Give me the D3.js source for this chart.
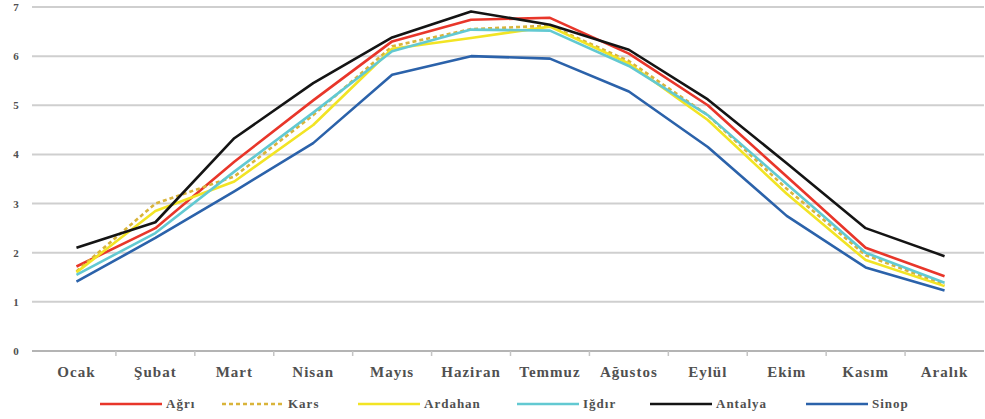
<!DOCTYPE html>
<html>
<head>
<meta charset="utf-8">
<script src="https://cdn.jsdelivr.net/npm/d3@7"></script>
<style>
  body { margin: 0; background: #fff; }
  svg text { font-family: "Liberation Serif", "DejaVu Serif", serif; font-weight: bold; fill: #505050; }
</style>
</head>
<body>
<svg id="chart" width="985" height="419"></svg>
<script>
// Aylar
const months = ["Ocak", "Şubat", "Mart", "Nisan", "Mayıs", "Haziran", "Temmuz", "Ağustos", "Eylül", "Ekim", "Kasım", "Aralık"];
const yTicks = [0, 1, 2, 3, 4, 5, 6, 7];

// Seriler
const agri    = [1.72, 2.50, 3.85, 5.10, 6.30, 6.74, 6.78, 6.05, 5.00, 3.55, 2.10, 1.52];
const kars    = [1.62, 3.00, 3.55, 4.80, 6.20, 6.55, 6.62, 5.90, 4.80, 3.30, 1.95, 1.35];
const ardahan = [1.60, 2.85, 3.45, 4.60, 6.15, 6.37, 6.60, 5.85, 4.70, 3.20, 1.85, 1.32];
const igdir   = [1.55, 2.40, 3.65, 4.85, 6.10, 6.54, 6.52, 5.80, 4.80, 3.40, 2.00, 1.39];
const antalya = [2.10, 2.62, 4.33, 5.45, 6.38, 6.91, 6.64, 6.13, 5.12, 3.82, 2.50, 1.93];
const sinop   = [1.41, 2.30, 3.25, 4.23, 5.62, 6.00, 5.95, 5.28, 4.15, 2.75, 1.70, 1.23];

const series = [
    { name: "Ağrı",    values: agri,    color: "#e8362a", dash: null },
    { name: "Kars",    values: kars,    color: "#d9b43a", dash: "4,3" },
    { name: "Ardahan", values: ardahan, color: "#f2e424", dash: null },
    { name: "Iğdır",   values: igdir,   color: "#62c9d2", dash: null },
    { name: "Antalya", values: antalya, color: "#141414", dash: null },
    { name: "Sinop",   values: sinop,   color: "#2b62aa", dash: null }
];

const svg = d3.select("#chart");
const margin = { left: 37, right: 1, top: 7, bottom: 68 };
const width = 985, height = 419;

const x = d3.scaleBand()
    .domain(months)
    .range([margin.left, width - margin.right]);

const y = d3.scaleLinear()
    .domain([0, 7])
    .range([height - margin.bottom, margin.top]);

// Izgara çizgileri
svg.append("g")
    .selectAll("line")
    .data(yTicks)
    .enter()
    .append("line")
    .attr("x1", margin.left - 5)
    .attr("x2", width - margin.right)
    .attr("y1", d => y(d))
    .attr("y2", d => y(d))
    .attr("stroke", d => d === 0 ? "#b4b4b4" : "#cfcfcf")
    .attr("stroke-width", 2);

// Y ekseni etiketleri
svg.append("g")
    .selectAll("text")
    .data(yTicks)
    .enter()
    .append("text")
    .attr("x", 16)
    .attr("y", d => y(d) + 4)
    .attr("text-anchor", "middle")
    .style("font-size", "11px")
    .text(d => d);

// X ekseni tick işaretleri
svg.append("g")
    .selectAll("line")
    .data(months.slice(1))
    .enter()
    .append("line")
    .attr("x1", d => x(d))
    .attr("x2", d => x(d))
    .attr("y1", y(0))
    .attr("y2", y(0) + 5)
    .attr("stroke", "#c4c4c4")
    .attr("stroke-width", 1.5);

// X ekseni etiketleri
svg.append("g")
    .selectAll("text")
    .data(months)
    .enter()
    .append("text")
    .attr("x", d => x(d) + x.bandwidth() / 2)
    .attr("y", 377)
    .attr("text-anchor", "middle")
    .style("font-size", "15px")
    .style("letter-spacing", "1px")
    .text(d => d);

// Çizgiler
const line = d3.line()
    .x((d, i) => x(months[i]) + x.bandwidth() / 2)
    .y(d => y(d));

svg.append("g")
    .selectAll("path")
    .data(series)
    .enter()
    .append("path")
    .attr("d", d => line(d.values))
    .attr("fill", "none")
    .attr("stroke", d => d.color)
    .attr("stroke-width", 2.6)
    .attr("stroke-dasharray", d => d.dash)
    .attr("stroke-linejoin", "round");

// Lejant
const legendX = [100, 222, 358, 517, 650, 806];
const legend = svg.append("g")
    .selectAll("g")
    .data(series)
    .enter()
    .append("g")
    .attr("transform", (d, i) => `translate(${legendX[i]},404)`);

legend.append("line")
    .attr("x1", 0)
    .attr("x2", 62)
    .attr("stroke", d => d.color)
    .attr("stroke-width", 2.6)
    .attr("stroke-dasharray", d => d.dash);

legend.append("text")
    .attr("x", 66)
    .attr("y", 4)
    .style("font-size", "13px")
    .style("letter-spacing", "1px")
    .text(d => d.name);
</script>
</body>
</html>
